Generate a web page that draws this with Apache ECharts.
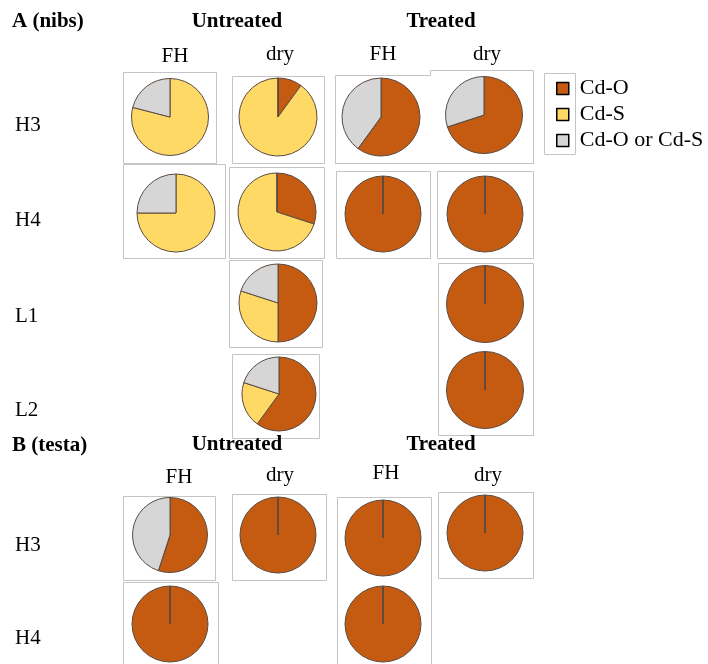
<!DOCTYPE html>
<html>
<head>
<meta charset="utf-8">
<script src="https://cdn.jsdelivr.net/npm/echarts@6/dist/echarts.min.js"></script>
<style>
html,body{margin:0;padding:0;background:#fff;}
#chart{width:708px;height:664px;}
</style>
</head>
<body>
<div id="chart"></div>
<script>
// ---- data ----
const categories = ['Cd-O', 'Cd-S', 'Cd-O or Cd-S'];
// values in % : [Cd-O, Cd-S, Cd-O or Cd-S]
const nibsH3UntreatedFH  = [0, 79, 21];
const nibsH3UntreatedDry = [10, 90, 0];
const nibsH3TreatedFH    = [60, 0, 40];
const nibsH3TreatedDry   = [70, 0, 30];
const nibsH4UntreatedFH  = [0, 75, 25];
const nibsH4UntreatedDry = [30, 70, 0];
const nibsH4TreatedFH    = [100, 0, 0];
const nibsH4TreatedDry   = [100, 0, 0];
const nibsL1UntreatedDry = [50, 30, 20];
const nibsL1TreatedDry   = [100, 0, 0];
const nibsL2UntreatedDry = [60, 20, 20];
const nibsL2TreatedDry   = [100, 0, 0];
const testaH3UntreatedFH  = [55, 0, 45];
const testaH3UntreatedDry = [100, 0, 0];
const testaH3TreatedFH    = [100, 0, 0];
const testaH3TreatedDry   = [100, 0, 0];
const testaH4UntreatedFH  = [100, 0, 0];
const testaH4TreatedFH    = [100, 0, 0];
const panelTitles = ['A (nibs)', 'B (testa)'];
const groupLabels = ['Untreated', 'Treated'];
const conditionLabels = ['FH', 'dry'];
const rowLabelsA = ['H3', 'H4', 'L1', 'L2'];
const rowLabelsB = ['H3', 'H4'];

// ---- layout (positions / sizes) ----
const pies = [
  [nibsH3UntreatedFH, 170, 117, 38.5],
  [nibsH3UntreatedDry, 278, 117, 39],
  [nibsH3TreatedFH, 381, 117, 39],
  [nibsH3TreatedDry, 484, 115, 38.5],
  [nibsH4UntreatedFH, 176, 213, 39],
  [nibsH4UntreatedDry, 277, 212, 39],
  [nibsH4TreatedFH, 383, 214, 38],
  [nibsH4TreatedDry, 485, 214, 38],
  [nibsL1UntreatedDry, 278, 303, 39],
  [nibsL1TreatedDry, 485, 304, 38.5],
  [nibsL2UntreatedDry, 279, 394, 37],
  [nibsL2TreatedDry, 485, 390, 38.5],
  [testaH3UntreatedFH, 170, 535, 37.5],
  [testaH3UntreatedDry, 278, 535, 38],
  [testaH3TreatedFH, 383, 538, 38],
  [testaH3TreatedDry, 485, 533, 38],
  [testaH4UntreatedFH, 170, 624, 38],
  [testaH4TreatedFH, 383, 624, 38]
];
const boxes = [
  [123,72,93,91],[232,76,92,87],[123,164,102,94],[229,167,95,91],
  [336,171,94,87],[437,171,96,87],[229,260,93,87],[232,354,87,84],
  [438,263,95,172],[544,73,31,81],
  [123,496,92,84],[123,582,95,90],[232,494,94,86],[337,497,94,180],[438,492,95,86]
];
const colors = ['#C55A11', '#FFD966', '#D6D6D6'];
const FONT = '"Liberation Serif", "Times New Roman", serif';

const series = pies.map(function (p) {
  return {
    type: 'pie',
    center: [p[1], p[2]],
    radius: [0, p[3]],
    startAngle: 90,
    clockwise: true,
    silent: true,
    animation: false,
    label: {show: false},
    labelLine: {show: false},
    emphasis: {disabled: true},
    itemStyle: {borderColor: '#5a4a40', borderWidth: 1},
    data: categories.map(function (c, i) { return {name: c, value: p[0][i]}; })
  };
});

const graphics = [];
boxes.forEach(function (b) {
  graphics.push({type: 'rect', shape: {x: b[0] + 0.5, y: b[1] + 0.5, width: b[2], height: b[3]},
    style: {fill: 'none', stroke: '#c4c4c4', lineWidth: 1}, silent: true, z: 0});
});
graphics.push({type: 'polyline', shape: {points: [[335.5,75.5],[430.5,75.5],[430.5,70.5],[533.5,70.5],[533.5,163.5],[335.5,163.5],[335.5,75.5]]},
  style: {fill: 'none', stroke: '#c4c4c4', lineWidth: 1}, silent: true, z: 0});

function txt(s, x, y, bold, align) {
  graphics.push({type: 'text', x: x, y: y, silent: true, z: 10,
    style: {text: s, fill: '#000', font: (bold ? 'bold ' : '') + '21px ' + FONT,
      textAlign: align || 'center', textVerticalAlign: 'middle'}});
}
// panel A
txt(panelTitles[0], 12, 22, true, 'left');
txt(groupLabels[0], 237, 22, true);
txt(groupLabels[1], 441, 22, true);
txt(conditionLabels[0], 175, 56); txt(conditionLabels[1], 280, 54);
txt(conditionLabels[0], 383, 54); txt(conditionLabels[1], 487, 54);
[125, 220, 316, 410].forEach(function (y, i) { txt(rowLabelsA[i], 15, y, false, 'left'); });
// panel B
txt(panelTitles[1], 12, 446, true, 'left');
txt(groupLabels[0], 237, 445, true);
txt(groupLabels[1], 441, 445, true);
txt(conditionLabels[0], 179, 477); txt(conditionLabels[1], 280, 475);
txt(conditionLabels[0], 386, 473); txt(conditionLabels[1], 488, 475);
[545, 638].forEach(function (y, i) { txt(rowLabelsB[i], 15, y, false, 'left'); });

const chart = echarts.init(document.getElementById('chart'), null, {renderer: 'canvas'});
chart.setOption({
  animation: false,
  color: colors,
  legend: {
    data: categories,
    orient: 'vertical',
    left: 556,
    top: 77,
    padding: 0,
    itemWidth: 12,
    itemHeight: 12,
    itemGap: 3,
    icon: 'rect',
    selectedMode: false,
    itemStyle: {borderColor: '#000', borderWidth: 1.5},
    textStyle: {fontFamily: FONT, fontSize: 22, color: '#000', lineHeight: 23, padding: [0, 0, 0, 6]}
  },
  series: series,
  graphic: graphics
});
</script>
</body>
</html>
